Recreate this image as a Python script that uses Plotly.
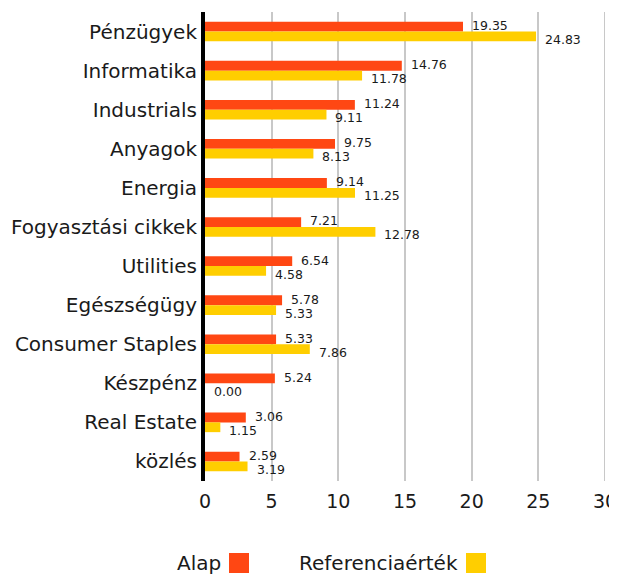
import plotly.graph_objects as go

categories = ["Pénzügyek", "Informatika", "Industrials", "Anyagok", "Energia",
              "Fogyasztási cikkek", "Utilities", "Egészségügy", "Consumer Staples",
              "Készpénz", "Real Estate", "közlés"]
alap = [19.35, 14.76, 11.24, 9.75, 9.14, 7.21, 6.54, 5.78, 5.33, 5.24, 3.06, 2.59]
referencia = [24.83, 11.78, 9.11, 8.13, 11.25, 12.78, 4.58, 5.33, 7.86, 0.00, 1.15, 3.19]
series_names = ["Alap", "Referenciaérték"]
colors = ["#FF4713", "#FFCE00"]
x_ticks = [0, 5, 10, 15, 20, 25, 30]

FONT = "DejaVu Sans"
TXT = "#1a1a1a"
GRID = "#c8c8c8"

# page has an 8px body margin; lay out in figure coordinates
OFF = 8
FW, FH = 617 - OFF, 579 - OFF
PL, PW, PT, PH = 205 - OFF, 400, 12 - OFF, 469

fig = go.Figure()
for name, vals, col in zip(series_names, [alap, referencia], colors):
    fig.add_trace(go.Bar(y=categories, x=vals, orientation="h", name=name,
                         marker=dict(color=col, line=dict(width=0)),
                         showlegend=False))

annotations = []
for vals, ys in [(alap, 6), (referencia, -8)]:
    for c, v in zip(categories, vals):
        annotations.append(dict(x=v, y=c, xref="x", yref="y", text=f"{v:.2f}",
                                showarrow=False, xanchor="left", yanchor="middle",
                                xshift=7, yshift=ys,
                                font=dict(family=FONT, size=12.5, color=TXT)))

shapes = [dict(type="line", xref="x", yref="paper", x0=x_ticks[-1], x1=x_ticks[-1],
               y0=0, y1=1, line=dict(color=GRID, width=2), layer="below")]

# manual legend (text followed by square)
LEG_Y = 563 - OFF
text_right = [223 - OFF, 460 - OFF]
sq_left = [229 - OFF, 466 - OFF]
for name, col, tr, sl in zip(series_names, colors, text_right, sq_left):
    yc = 1 - (LEG_Y - PT) / PH
    annotations.append(dict(x=(tr - PL) / PW, y=yc, xref="paper", yref="paper",
                            text=name, showarrow=False, xanchor="right", yanchor="middle",
                            font=dict(family=FONT, size=20, color=TXT)))
    shapes.append(dict(type="rect", xref="paper", yref="paper",
                       x0=(sl - PL) / PW, x1=(sl + 20 - PL) / PW,
                       y0=yc - 10 / PH, y1=yc + 10 / PH,
                       fillcolor=col, line=dict(width=0)))

fig.update_layout(
    width=FW, height=FH,
    margin=dict(l=PL, r=FW - PL - PW, t=PT, b=FH - PT - PH, autoexpand=False),
    plot_bgcolor="white", paper_bgcolor="white",
    barmode="group", bargap=0.5, bargroupgap=0,
    font=dict(family=FONT, color=TXT),
    annotations=annotations, shapes=shapes,
    xaxis=dict(range=[0, 30], tickvals=x_ticks, showgrid=True,
               gridcolor=GRID, gridwidth=2, zeroline=False,
               ticklabeloverflow="allow", ticklabelstandoff=7,
               tickfont=dict(size=19, family=FONT, color=TXT), ticks="", ticklen=0),
    yaxis=dict(autorange="reversed", showline=True, linecolor="black", linewidth=4,
               showgrid=False, ticks="", ticklabelstandoff=0,
               tickfont=dict(size=20, family=FONT, color=TXT)),
)

fig.write_html("out.html")
